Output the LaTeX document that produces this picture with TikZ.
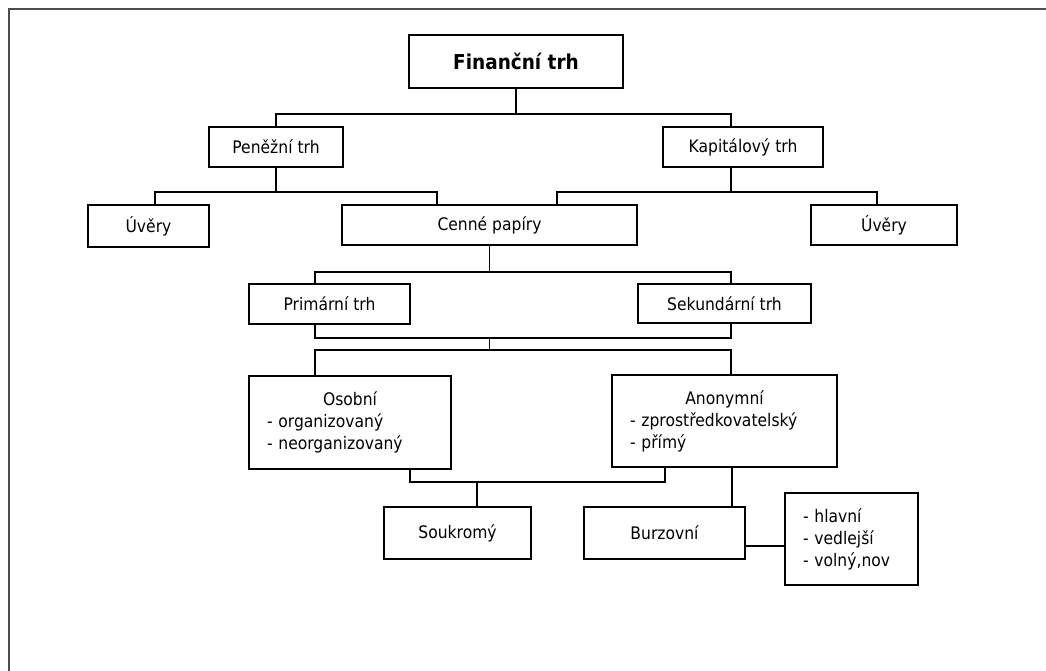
\documentclass[tikz,border=0pt]{standalone}
\usepackage{fontspec}
\setmainfont{DejaVu Sans}[FakeStretch=0.9]
\begin{document}
\begin{tikzpicture}[x=1pt,y=-1pt,
	box/.style={draw=black,line width=1.4pt,inner sep=0pt,font=\fontsize{17.3}{22}\selectfont},
	listbox/.style={box,align=left,inner xsep=18pt,inner ysep=0pt},
	conn/.style={line width=1.1pt}]

		\useasboundingbox (0,0) rectangle (1046,671);

		%page frame
		\draw[black!70,line width=1.2pt] (9,671) -- (9,9) -- (1046,9);

		%top
		\node[box,minimum width=214pt,minimum height=53pt,font=\bfseries\fontsize{20.5}{24}\selectfont] (fin) at (516,61.5) {Finanční trh};

		%markets
		\node[box,minimum width=134pt,minimum height=40pt] (pen) at (276,147) {Peněžní trh};
		\node[box,minimum width=160pt,minimum height=40pt] (kap) at (743,147) {Kapitálový trh};

		\node[box,minimum width=121pt,minimum height=42pt] (uv1) at (148.5,226) {Úvěry};
		\node[box,minimum width=295pt,minimum height=40pt] (cen) at (489.5,225) {Cenné papíry};
		\node[box,minimum width=146pt,minimum height=40pt] (uv2) at (884,225) {Úvěry};

		\node[box,minimum width=161pt,minimum height=40pt] (pri) at (329.5,304) {Primární trh};
		\node[box,minimum width=173pt,minimum height=39pt] (sek) at (724.5,303.5) {Sekundární trh};

		%kinds of trading
		\node[listbox,text width=166pt,minimum height=93pt] (oso) at (350,422.5) {\makebox[\hsize]{Osobní}\\- organizovaný\\- neorganizovaný};
		\node[listbox,text width=189pt,minimum height=92pt] (ano) at (724.5,421) {\makebox[\hsize]{Anonymní}\\- zprostředkovatelský\\- přímý};

		\node[box,minimum width=147pt,minimum height=52pt] (sou) at (457.5,533) {Soukromý};
		\node[box,minimum width=161pt,minimum height=52pt] (bur) at (664.5,533) {Burzovní};
		\node[listbox,text width=97pt,minimum height=92pt] (lst) at (851.5,539) {- hlavní\\- vedlejší\\- volný,nov};

		%edges
		\coordinate (j1) at (516,114);
		\draw[conn] (fin.south) -- (j1);
		\draw[conn] (pen.north) |- (j1) -| ([xshift=-12pt]kap.north);

		\coordinate (j2) at (276,192);
		\draw[conn] (pen.south) -- (j2);
		\draw[conn] ([xshift=6.5pt]uv1.north) |- (j2) -| ([xshift=-52.5pt]cen.north);

		\coordinate (j3) at (731,192);
		\draw[conn] ([xshift=-12pt]kap.south) -- (j3);
		\draw[conn] ([xshift=67.5pt]cen.north) |- (j3) -| ([xshift=-7pt]uv2.north);

		\coordinate (j4) at (489.5,272);
		\draw[conn] (cen.south) -- (j4);
		\draw[conn] ([xshift=-14.5pt]pri.north) |- (j4) -| ([xshift=6.5pt]sek.north);

		\coordinate (j5) at (489.5,338);
		\coordinate (j6) at (489.5,350);
		\draw[conn] ([xshift=-14.5pt]pri.south) |- (j5) -| ([xshift=6.5pt]sek.south);
		\draw[conn] (j5) -- (j6);
		\draw[conn] ([xshift=-35pt]oso.north) |- (j6) -| ([xshift=6.5pt]ano.north);

		\coordinate (j7) at (477,482);
		\draw[conn] ([xshift=60pt]oso.south) |- (j7) -| ([xshift=19.5pt]sou.north);
		\draw[conn] ([xshift=-59.5pt]ano.south) |- (j7);
		\draw[conn] ([xshift=7.5pt]ano.south) -- ([xshift=67.5pt]bur.north);
		\draw[conn] ([yshift=-13pt]bur.east) -- ([yshift=-7pt]lst.west);
\end{tikzpicture}
\end{document}
